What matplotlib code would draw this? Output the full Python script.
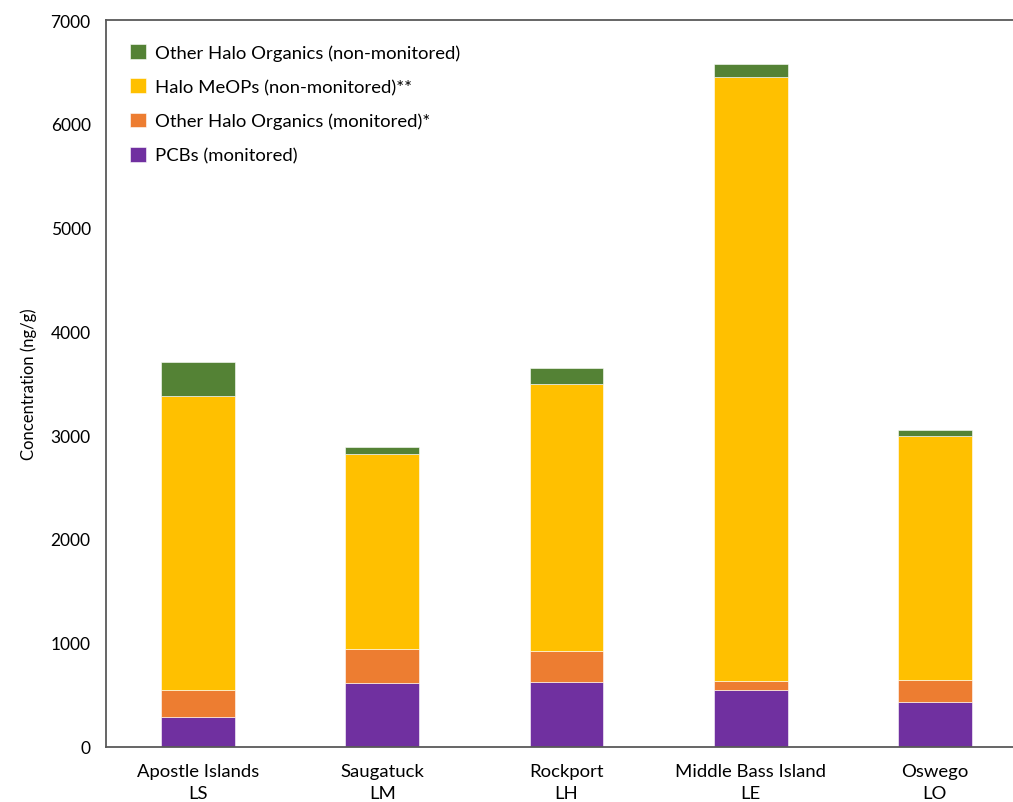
import matplotlib.pyplot as plt
import numpy as np

# sites and lake codes
sites = ['Apostle Islands\nLS', 'Saugatuck\nLM', 'Rockport\nLH',
         'Middle Bass Island\nLE', 'Oswego\nLO']

# stacked segments (ng/g), bottom to top
pcbs = [281, 612, 621, 547, 432]
other_mon = [266, 330, 302, 87, 212]
halo_meops = [2833, 1876, 2572, 5814, 2348]
other_nonmon = [322, 71, 152, 128, 60]

colors = ['#7030A0', '#ED7D31', '#FFC000', '#548235']
labels = ['PCBs (monitored)', 'Other Halo Organics (monitored)*',
          'Halo MeOPs (non-monitored)**', 'Other Halo Organics (non-monitored)']

plt.rcParams['font.family'] = ['Lato', 'DejaVu Sans']

fig = plt.figure(figsize=(10.13, 8.03), dpi=100)
ax = fig.add_axes([0.1046, 0.0691, 0.9092, 0.9047])

x = np.arange(len(sites))
bottom = np.zeros(len(sites))
handles = []
for vals, c, lab in zip([pcbs, other_mon, halo_meops, other_nonmon], colors, labels):
    b = ax.bar(x, vals, 0.4, bottom=bottom, color=c, label=lab,
               edgecolor='white', linewidth=0.4)
    handles.append(b)
    bottom += np.array(vals)

ax.set_xlim(-0.5, 4.5)
ax.set_ylim(0, 7000)
ax.set_yticks(range(0, 7001, 1000))
ax.set_xticks(x)
ax.set_xticklabels(sites, fontsize=13.3, linespacing=1.45)
ax.tick_params(axis='y', length=0, pad=11, labelsize=12.5)
ax.tick_params(axis='x', length=0, pad=12)
ax.set_ylabel('Concentration (ng/g)', fontsize=12, labelpad=10)

for s in ['left', 'top', 'bottom']:
    ax.spines[s].set_color('#595959')
    ax.spines[s].set_linewidth(1.3)
ax.spines['right'].set_visible(False)

ax.legend(handles[::-1], labels[::-1], loc='upper left', frameon=False,
          fontsize=13.3, handlelength=0.85, handleheight=0.85, handletextpad=0.5,
          labelspacing=0.95, bbox_to_anchor=(0.008, 0.99))

fig.savefig('out.png', dpi=100)
